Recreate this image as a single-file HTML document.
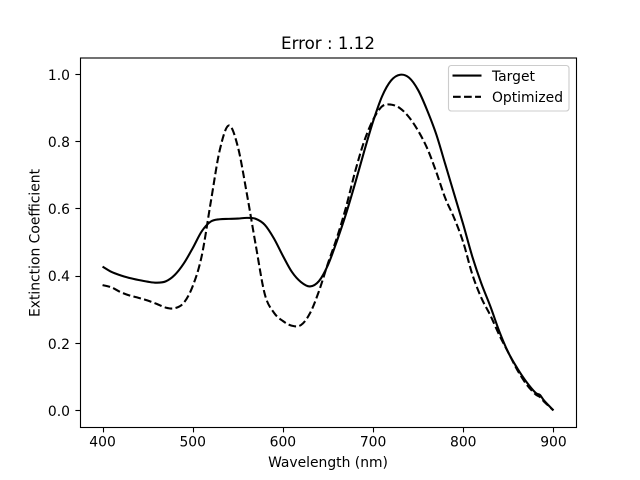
<!DOCTYPE html>
<html>
<head>
<meta charset="utf-8">
<style>
html,body{margin:0;padding:0;background:#fff;}
svg{display:block;font-family:"DejaVu Sans","Liberation Sans",sans-serif;}
</style>
</head>
<body>
<svg id="chart" xmlns="http://www.w3.org/2000/svg" width="640" height="480" viewBox="0 0 640 480">
  <rect x="0" y="0" width="640" height="480" fill="#fff"/>
  <text x="328" y="49" font-size="16.67" text-anchor="middle" fill="#000">Error : 1.12</text>
  <g id="series"></g>
  <g id="ticks"></g>
  <rect x="80.5" y="58" width="496" height="369.5" fill="none" stroke="#000" stroke-width="1.11"/>
  <text x="328" y="467" font-size="13.89" text-anchor="middle" fill="#000">Wavelength (nm)</text>
  <text transform="translate(39.5,243) rotate(-90)" font-size="13.89" text-anchor="middle" fill="#000">Extinction Coefficient</text>
  <g>
    <rect x="448.5" y="65.5" width="120.5" height="45.5" rx="2.8" fill="#fff" fill-opacity="0.8" stroke="#ccc" stroke-width="1.11"/>
    <line x1="452.5" y1="75.6" x2="481.5" y2="75.6" stroke="#000" stroke-width="2.08"/>
    <text x="492" y="81" font-size="13.89" fill="#000">Target</text>
    <line x1="453" y1="96.8" x2="481" y2="96.8" stroke="#000" stroke-width="2.08" stroke-dasharray="7.7 3.33"/>
    <text x="492" y="102" font-size="13.89" fill="#000">Optimized</text>
  </g>
</svg>
<script>
var wavelengths = [400,410,420,430,440,450,460,470,480,490,500,510,520,530,540,550,560,570,580,590,600,610,620,630,640,650,660,670,680,690,700,710,720,730,740,750,760,770,780,790,800,810,820,830,840,850,860,870,880,885,890,900];
var targetValues = [0.428,0.412,0.402,0.394,0.388,0.383,0.380,0.384,0.403,0.437,0.483,0.533,0.562,0.569,0.570,0.571,0.573,0.570,0.552,0.512,0.460,0.412,0.382,0.369,0.385,0.433,0.505,0.585,0.675,0.770,0.860,0.935,0.982,0.999,0.990,0.953,0.893,0.822,0.733,0.643,0.553,0.458,0.378,0.310,0.235,0.172,0.125,0.085,0.053,0.046,0.028,0.000];
var optimizedValues = [0.373,0.366,0.352,0.342,0.335,0.327,0.317,0.306,0.304,0.320,0.370,0.460,0.620,0.775,0.848,0.785,0.645,0.490,0.345,0.291,0.266,0.252,0.254,0.289,0.355,0.438,0.515,0.605,0.710,0.800,0.865,0.905,0.910,0.899,0.872,0.832,0.780,0.710,0.632,0.572,0.500,0.405,0.335,0.283,0.224,0.172,0.120,0.078,0.048,0.040,0.025,0.000];
var xTickValues = [400,500,600,700,800,900];
var yTickValues = [0,0.2,0.4,0.6,0.8,1];
var yTickLabels = ["0.0","0.2","0.4","0.6","0.8","1.0"];

var NS = 'http://www.w3.org/2000/svg';
function xScale(v){ return 102.55 + (v - 400) * 0.9018; }
function yScale(v){ return 410.4 - v * 336; }
function smoothPath(xs, ys){
  var d = 'M' + xScale(xs[0]).toFixed(2) + ' ' + yScale(ys[0]).toFixed(2);
  for (var i = 0; i < xs.length - 1; i++) {
    var i0 = Math.max(i - 1, 0), i3 = Math.min(i + 2, xs.length - 1);
    var x0 = xScale(xs[i0]), y0 = yScale(ys[i0]);
    var x1 = xScale(xs[i]), y1 = yScale(ys[i]);
    var x2 = xScale(xs[i + 1]), y2 = yScale(ys[i + 1]);
    var x3 = xScale(xs[i3]), y3 = yScale(ys[i3]);
    d += 'C' + (x1 + (x2 - x0) / 6).toFixed(2) + ' ' + (y1 + (y2 - y0) / 6).toFixed(2) + ' ' +
         (x2 - (x3 - x1) / 6).toFixed(2) + ' ' + (y2 - (y3 - y1) / 6).toFixed(2) + ' ' +
         x2.toFixed(2) + ' ' + y2.toFixed(2);
  }
  return d;
}
var seriesGroup = document.getElementById('series');
var tickGroup = document.getElementById('ticks');

var targetLine = document.createElementNS(NS, 'path');


targetLine.setAttribute('d', smoothPath(wavelengths, targetValues));
targetLine.setAttribute('fill', 'none');
targetLine.setAttribute('stroke', '#000');
targetLine.setAttribute('stroke-width', '2.08');
seriesGroup.appendChild(targetLine);

var optimizedLine = document.createElementNS(NS, 'path');


optimizedLine.setAttribute('d', smoothPath(wavelengths, optimizedValues));
optimizedLine.setAttribute('fill', 'none');
optimizedLine.setAttribute('stroke', '#000');
optimizedLine.setAttribute('stroke-width', '2.08');
optimizedLine.setAttribute('stroke-dasharray', '7.7 3.33');
seriesGroup.appendChild(optimizedLine);

xTickValues.forEach(function(v){
  var x = xScale(v);
  var snapped = Math.floor(x + 0.5) + 0.5;
  var mark = document.createElementNS(NS, 'line');
  
  
  mark.setAttribute('x1', snapped);
  mark.setAttribute('x2', snapped);
  mark.setAttribute('y1', 427.5);
  mark.setAttribute('y2', 432.4);
  mark.setAttribute('stroke', '#000');
  mark.setAttribute('stroke-width', '1.11');
  tickGroup.appendChild(mark);
  var label = document.createElementNS(NS, 'text');
  
  
  label.setAttribute('x', x);
  label.setAttribute('y', 446.5);
  label.setAttribute('font-size', '13.89');
  label.setAttribute('text-anchor', 'middle');
  label.textContent = String(v);
  tickGroup.appendChild(label);
});

yTickValues.forEach(function(v, i){
  var y = yScale(v);
  var snapped = Math.floor(y) + 0.5;
  var mark = document.createElementNS(NS, 'line');
  
  
  mark.setAttribute('x1', 75.4);
  mark.setAttribute('x2', 80.3);
  mark.setAttribute('y1', snapped);
  mark.setAttribute('y2', snapped);
  mark.setAttribute('stroke', '#000');
  mark.setAttribute('stroke-width', '1.11');
  tickGroup.appendChild(mark);
  var label = document.createElementNS(NS, 'text');
  
  
  label.setAttribute('x', 70);
  label.setAttribute('y', Math.round(y + 5.3));
  label.setAttribute('font-size', '13.89');
  label.setAttribute('text-anchor', 'end');
  label.textContent = yTickLabels[i];
  tickGroup.appendChild(label);
});
</script>
</body>
</html>
